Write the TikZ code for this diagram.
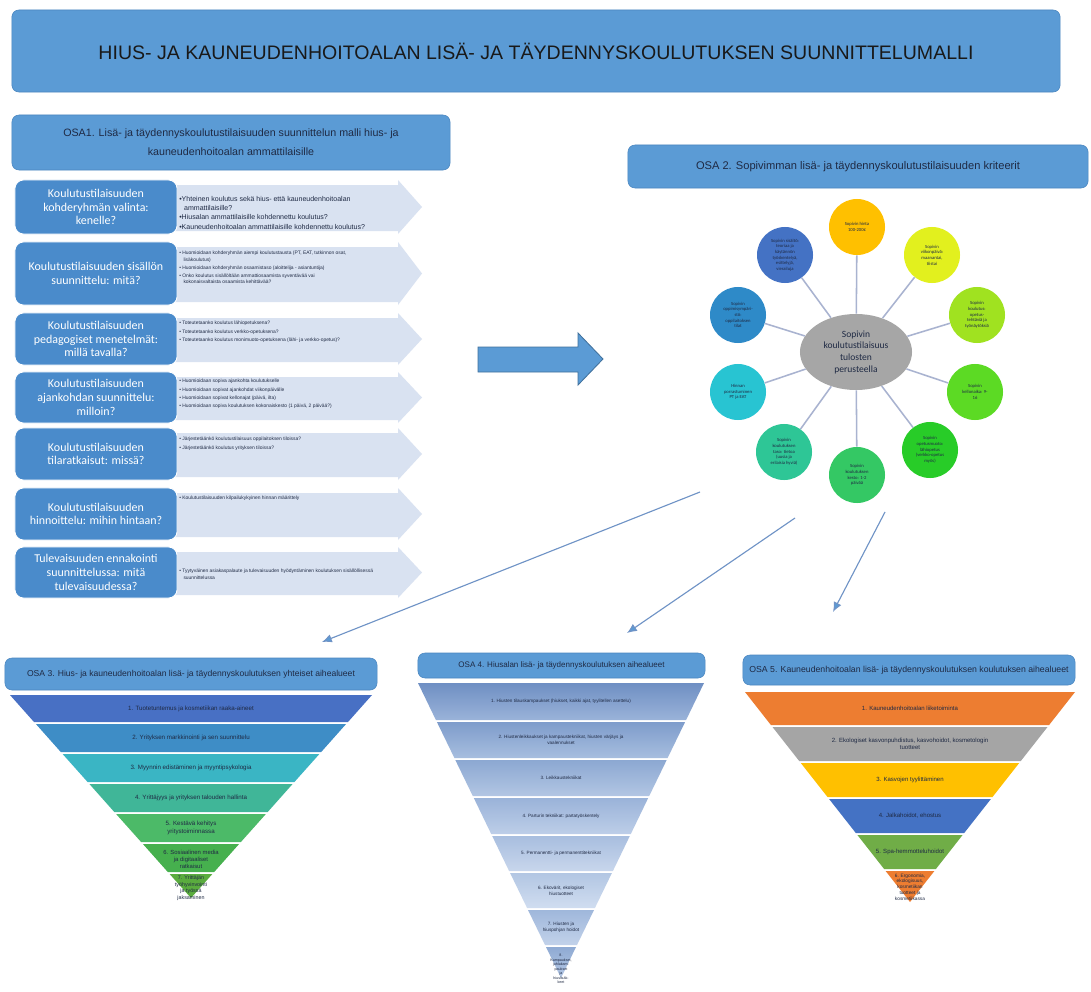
\documentclass[tikz,border=0pt]{standalone}
\usepackage{fontspec}
\setmainfont{Liberation Sans}
\newfontfamily\calfont{Carlito}
\usetikzlibrary{shapes.geometric,arrows.meta}
\def\fs#1#2{\fontsize{#1}{#2}\selectfont}
\definecolor{hdrblue}{HTML}{5B9BD5}
\definecolor{hdrline}{HTML}{4A86C0}
\definecolor{rowblue}{HTML}{4A8BCB}
\definecolor{arrowbg}{HTML}{D9E2F1}
\definecolor{arrline}{HTML}{41719C}
\definecolor{txtdark}{HTML}{1F2A44}
\definecolor{spokecol}{HTML}{A9B3D0}
\definecolor{linkcol}{HTML}{6F93C6}
\definecolor{linktip}{HTML}{5B9BD5}

\begin{document}
\begin{tikzpicture}[x=0.025cm,y=-0.025cm,
    hdr/.style={rectangle, rounded corners=5pt, fill=hdrblue, draw=hdrline, line width=0.4pt, inner sep=0pt, align=center, text=txtdark},
    rowbox/.style={rectangle, rounded corners=6pt, fill=rowblue, draw=white, line width=0.6pt, text=white, inner sep=0pt, align=center, minimum width=4.05cm, font=\calfont\fs{8.5}{9.8}},
    bul/.style={anchor=north west, align=left, inner sep=0pt, text=txtdark},
    sat/.style={circle, minimum size=1.4cm, inner sep=1pt, align=center, text=txtdark, font=\calfont\fs{3.3}{4}},
    spoke/.style={draw=spokecol, line width=1.1pt},
    link/.style={draw=linkcol, line width=0.8pt, -{Latex[length=7pt,width=6pt,fill=linktip]}},
    bt/.style={align=center, inner sep=0pt, text=txtdark}]
    \useasboundingbox[fill=white] (0,0) rectangle (1091,992);

    \node[hdr, minimum width=26.2cm, minimum height=2.05cm, font=\fs{13.9}{15}, text=black!90] (title) at (536,51) {HIUS- JA KAUNEUDENHOITOALAN LISÄ- JA TÄYDENNYSKOULUTUKSEN SUUNNITTELUMALLI};

    % OSA 1
    \node[hdr, minimum width=10.95cm, minimum height=1.375cm, font=\fs{7.6}{13.5}] (osa1) at (231,142.5) {OSA1. Lisä- ja täydennyskoulutustilaisuuden suunnittelun malli hius- ja\\kauneudenhoitoalan ammattilaisille};
    \fill[arrowbg] (170,185) -- (398,185) -- (398,180) -- (422,207) -- (398,234) -- (398,231) -- (170,231) -- cycle;
    \fill[arrowbg] (170,247) -- (398,247) -- (398,242) -- (422,273.5) -- (398,305) -- (398,302) -- (170,302) -- cycle;
    \fill[arrowbg] (170,318) -- (398,318) -- (398,313) -- (422,339) -- (398,365) -- (398,362) -- (170,362) -- cycle;
    \fill[arrowbg] (170,377) -- (398,377) -- (398,372) -- (422,397.5) -- (398,423) -- (398,420) -- (170,420) -- cycle;
    \fill[arrowbg] (170,433) -- (398,433) -- (398,428) -- (422,454) -- (398,480) -- (398,477) -- (170,477) -- cycle;
    \fill[arrowbg] (170,493) -- (398,493) -- (398,488) -- (422,514) -- (398,540) -- (398,537) -- (170,537) -- cycle;
    \fill[arrowbg] (170,552) -- (398,552) -- (398,547) -- (422,572.5) -- (398,598) -- (398,595) -- (170,595) -- cycle;

    \node[rowbox, minimum height=1.35cm] (r1) at (96,207) {Koulutustilaisuuden\\kohderyhmän valinta:\\kenelle?};
    \node[rowbox, minimum height=1.575cm] (r2) at (96,273.5) {Koulutustilaisuuden sisällön\\suunnittelu: mitä?};
    \node[rowbox, minimum height=1.3cm] (r3) at (96,339) {Koulutustilaisuuden\\pedagogiset menetelmät:\\millä tavalla?};
    \node[rowbox, minimum height=1.275cm] (r4) at (96,397.5) {Koulutustilaisuuden\\ajankohdan suunnittelu:\\milloin?};
    \node[rowbox, minimum height=1.3cm] (r5) at (96,454) {Koulutustilaisuuden\\tilaratkaisut: missä?};
    \node[rowbox, minimum height=1.3cm] (r6) at (96,514) {Koulutustilaisuuden\\hinnoittelu: mihin hintaan?};
    \node[rowbox, minimum height=1.275cm] (r7) at (96,572.5) {Tulevaisuuden ennakointi\\suunnittelussa: mitä\\tulevaisuudessa?};

    \node[bul, font=\fs{5}{6.6}] (b1) at (179,196) {•Yhteinen koulutus sekä hius- että kauneudenhoitoalan\\\hspace*{3.5pt}ammattilaisille?\\•Hiusalan ammattilaisille kohdennettu koulutus?\\•Kauneudenhoitoalan ammattilaisille kohdennettu koulutus?};
    \node[bul, font=\fs{3.5}{4.4}] (b2) at (179,251) {• Huomioidaan kohderyhmän aiempi koulutustausta (PT, EAT, tutkinnon osat,\\\hspace*{3pt}lisäkoulutus)\\[1.5pt]• Huomioidaan kohderyhmän osaamistaso (aloittelija - asiantuntija)\\[1.5pt]• Onko koulutus sisällöltään ammattiosaamista syventävää vai\\\hspace*{3pt}kokonaisvaltaista osaamista kehittävää?};
    \node[bul, font=\fs{3.5}{4.4}] (b3) at (179,321) {• Toteutetaanko koulutus lähiopetuksena?\\[1.5pt]• Toteutetaanko koulutus verkko-opetuksena?\\[1.5pt]• Toteutetaanko koulutus monimuoto-opetuksena (lähi- ja verkko-opetus)?};
    \node[bul, font=\fs{3.5}{4.4}] (b4) at (179,379) {• Huomioidaan sopiva ajankohta koulutukselle\\[1.5pt]• Huomioidaan sopivat ajankohdat viikonpäivälle\\[1.5pt]• Huomioidaan sopivat kellonajat (päivä, ilta)\\[1.5pt]• Huomioidaan sopiva koulutuksen kokonaiskesto (1 päivä, 2 päivää?)};
    \node[bul, font=\fs{3.5}{4.4}] (b5) at (179,437) {• Järjestetäänkö koulutustilaisuus oppilaitoksen tiloissa?\\[1.5pt]• Järjestetäänkö koulutus yrityksen tiloissa?};
    \node[bul, font=\fs{3.5}{4.4}] (b6) at (179,496) {• Koulutustilaisuuden kilpailukykyinen hinnan määrittely};
    \node[bul, font=\fs{3.5}{4.4}] (b7) at (179,569) {• Tyytyväinen asiakaspalaute ja tulevaisuuden hyödyntäminen koulutuksen sisällöllisessä\\\hspace*{3pt}suunnittelussa};

    % iso nuoli
    \draw[fill=hdrblue, draw=arrline, line width=0.6pt] (478,347) -- (578,347) -- (578,333) -- (603,359) -- (578,385) -- (578,372) -- (478,372) -- cycle;

    % OSA 2
    \node[hdr, minimum width=11.5cm, minimum height=1.075cm, font=\fs{7.9}{9}] (osa2) at (858,166.5) {OSA 2. Sopivimman lisä- ja täydennyskoulutustilaisuuden kriteerit};
    \node[ellipse, fill=black!35, minimum width=2.8cm, minimum height=1.9cm, inner sep=0pt, align=center, text=txtdark, font=\calfont\fs{6.8}{8.3}] (c) at (856,352) {Sopivin\\koulutustilaisuus\\tulosten\\perusteella};
    \node[sat, fill={rgb,255:red,255;green,192;blue,0}] (s1) at (857,227) {Sopivin hinta\\100-200€};
    \node[sat, fill={rgb,255:red,226;green,240;blue,30}] (s2) at (932,255) {Sopivin\\viikonpäivä:\\maanantai,\\tiistai};
    \node[sat, fill={rgb,255:red,160;green,226;blue,32}] (s3) at (977,315) {Sopivin\\koulutus:\\opetus-\\tehtäviä ja\\työnäytöksiä};
    \node[sat, fill={rgb,255:red,92;green,218;blue,36}] (s4) at (975,392) {Sopivin\\kellonaika: 9-\\16};
    \node[sat, fill={rgb,255:red,40;green,204;blue,40}] (s5) at (930,450) {Sopivin\\opetusmuoto:\\lähiopetus\\(verkko-opetus\\myös)};
    \node[sat, fill={rgb,255:red,52;green,200;blue,100}] (s6) at (857,475) {Sopivin\\koulutuksen\\kesto: 1-2\\päivää};
    \node[sat, fill={rgb,255:red,46;green,198;blue,150}] (s7) at (784,452) {Sopivin\\koulutuksen\\taso: tietoa\\(uusia ja\\erilaisia hyviä)};
    \node[sat, fill={rgb,255:red,40;green,196;blue,210}] (s8) at (738,392) {Hinnan\\porrastuminen\\PT ja EAT};
    \node[sat, fill={rgb,255:red,46;green,138;blue,200}] (s9) at (738,315) {Sopivin\\oppimisympäri-\\stö:\\oppilaitoksen\\tilat};
    \node[sat, fill={rgb,255:red,68;green,114;blue,196}] (s10) at (785,255) {Sopivin sisältö:\\teoriaa ja\\käytännön\\työskentelyä,\\esittelyjä,\\vierailuja};
    \draw[spoke] (c) -- (s1);
    \draw[spoke] (c) -- (s2);
    \draw[spoke] (c) -- (s3);
    \draw[spoke] (c) -- (s4);
    \draw[spoke] (c) -- (s5);
    \draw[spoke] (c) -- (s6);
    \draw[spoke] (c) -- (s7);
    \draw[spoke] (c) -- (s8);
    \draw[spoke] (c) -- (s9);
    \draw[spoke] (c) -- (s10);

    \coordinate (l3a) at (700,492);
    \coordinate (l3b) at (322,642);
    \coordinate (l4a) at (795,518);
    \coordinate (l4b) at (627,633);
    \coordinate (l5a) at (885,512);
    \coordinate (l5b) at (833,612);
    \draw[link] (l3a) -- (l3b);
    \draw[link] (l4a) -- (l4b);
    \draw[link] (l5a) -- (l5b);

    % OSA 3
    \node[hdr, minimum width=9.3cm, minimum height=0.8cm, font=\fs{6.1}{7}] (osa3) at (191,674) {OSA 3. Hius- ja kauneudenhoitoalan lisä- ja täydennyskoulutuksen yhteiset aihealueet};
    \fill[fill={rgb,255:red,72;green,112;blue,196}] (10,695) -- (372,695) -- (348,722) -- (34,722) -- cycle;
    \fill[fill={rgb,255:red,62;green,141;blue,198}] (35.9,724) -- (346.1,724) -- (321.2,752) -- (60.8,752) -- cycle;
    \fill[fill={rgb,255:red,58;green,181;blue,196}] (62.6,754) -- (319.4,754) -- (294.4,782) -- (87.6,782) -- cycle;
    \fill[fill={rgb,255:red,64;green,182;blue,152}] (89.4,784) -- (292.6,784) -- (267.7,812) -- (114.3,812) -- cycle;
    \fill[fill={rgb,255:red,76;green,186;blue,104}] (116.1,814) -- (265.9,814) -- (240.9,842) -- (141.1,842) -- cycle;
    \fill[fill={rgb,255:red,70;green,176;blue,78}] (142.9,844) -- (239.1,844) -- (214.2,872) -- (167.8,872) -- cycle;
    \fill[fill={rgb,255:red,90;green,172;blue,62}] (169.6,874) -- (212.4,874) -- (191,898) -- cycle;
    \node[bt, font=\fs{4.4}{5.4}] (p31) at (191,708.5) {1. Tuotetuntemus ja kosmetiikan raaka-aineet};
    \node[bt, font=\fs{4.4}{5.4}] (p32) at (191,738) {2. Yrityksen markkinointi ja sen suunnittelu};
    \node[bt, font=\fs{4.4}{5.4}] (p33) at (191,768) {3. Myynnin edistäminen ja myyntipsykologia};
    \node[bt, font=\fs{4.4}{5.4}] (p34) at (191,798) {4. Yrittäjyys ja yrityksen talouden hallinta};
    \node[bt, font=\fs{4.4}{5.4}] (p35) at (191,828) {5. Kestävä kehitys\\yritystoiminnassa};
    \node[bt, font=\fs{4.2}{5}] (p36) at (191,859) {6. Sosiaalinen media\\ja digitaaliset\\ratkaisut};
    \node[bt, font=\fs{3.8}{4.6}] (p37) at (191,888) {7. Yrittäjän\\työhyvinvointi\\ja työssä\\jaksaminen};

    % OSA 4
    \node[hdr, minimum width=7.175cm, minimum height=0.625cm, font=\fs{5.7}{6.5}] (osa4) at (561.5,665.5) {OSA 4. Hiusalan lisä- ja täydennyskoulutuksen aihealueet};
    \shade[top color={rgb,255:red,111;green,143;blue,195}, bottom color={rgb,255:red,154;green,179;blue,217}] (418,683) -- (704,683) -- (686.1,720) -- (435.9,720) -- cycle;
    \shade[top color={rgb,255:red,126;green,156;blue,203}, bottom color={rgb,255:red,167;green,190;blue,223}] (436.9,722) -- (685.1,722) -- (667.6,758) -- (454.4,758) -- cycle;
    \shade[top color={rgb,255:red,140;green,168;blue,210}, bottom color={rgb,255:red,178;green,198;blue,227}] (455.3,760) -- (666.7,760) -- (649.2,796) -- (472.8,796) -- cycle;
    \shade[top color={rgb,255:red,154;green,179;blue,217}, bottom color={rgb,255:red,189;green,206;blue,232}] (473.8,798) -- (648.2,798) -- (630.8,834) -- (491.2,834) -- cycle;
    \shade[top color={rgb,255:red,168;green,190;blue,223}, bottom color={rgb,255:red,200;green,214;blue,236}] (492.2,836) -- (629.8,836) -- (612.9,871) -- (509.1,871) -- cycle;
    \shade[top color={rgb,255:red,178;green,198;blue,227}, bottom color={rgb,255:red,208;green,221;blue,240}] (510.1,873) -- (611.9,873) -- (594.9,908) -- (527.1,908) -- cycle;
    \shade[top color={rgb,255:red,159;green,183;blue,219}, bottom color={rgb,255:red,194;green,210;blue,234}] (528,910) -- (594,910) -- (577,945) -- (545,945) -- cycle;
    \shade[top color={rgb,255:red,143;green,170;blue,211}, bottom color={rgb,255:red,181;green,200;blue,229}] (546,947) -- (576,947) -- (561,978) -- cycle;
    \node[bt, font=\fs{3.3}{4.2}] (p41) at (561,701.5) {1. Hiusten tilauskampaukset (hiukset, kaikki ajat, tyylitellen asettelu)};
    \node[bt, font=\fs{3.3}{4.2}] (p42) at (561,740) {2. Hiustenleikkaukset ja kampaustekniikat, hiusten värjäys ja\\vaalennukset};
    \node[bt, font=\fs{3.3}{4.2}] (p43) at (561,778) {3. Leikkaustekniikat};
    \node[bt, font=\fs{3.3}{4.2}] (p44) at (561,816) {4. Parturin tekniikat: partatyöskentely};
    \node[bt, font=\fs{3.3}{4.2}] (p45) at (561,853.5) {5. Permanentti- ja permanenttitekniikat};
    \node[bt, font=\fs{3.3}{4.2}] (p46) at (561,890.5) {6. Ekovärit, ekologiset\\hiustuotteet};
    \node[bt, font=\fs{3.3}{4.2}] (p47) at (561,927.5) {7. Hiusten ja\\hiuspohjan hoidot};
    \node[bt, font=\fs{2.6}{3.2}] (p48) at (561,969) {8.\\Kampaukset,\\juhlakam-\\paukset\\ja\\hiuslisäk-\\keet};

    % OSA 5
    \node[hdr, minimum width=8.3cm, minimum height=0.75cm, font=\fs{6.2}{7}] (osa5) at (909,670) {OSA 5. Kauneudenhoitoalan lisä- ja täydennyskoulutuksen koulutuksen aihealueet};
    \fill[fill={rgb,255:red,237;green,125;blue,49}] (745,692) -- (1075,692) -- (1049.1,725) -- (770.9,725) -- cycle;
    \fill[fill={rgb,255:red,165;green,165;blue,165}] (772.5,727) -- (1047.5,727) -- (1020.8,761) -- (799.2,761) -- cycle;
    \fill[fill={rgb,255:red,255;green,192;blue,0}] (800.8,763) -- (1019.2,763) -- (992.5,797) -- (827.5,797) -- cycle;
    \fill[fill={rgb,255:red,68;green,114;blue,196}] (829.1,799) -- (990.9,799) -- (964.2,833) -- (855.8,833) -- cycle;
    \fill[fill={rgb,255:red,112;green,173;blue,71}] (857.4,835) -- (962.6,835) -- (935.9,869) -- (884.1,869) -- cycle;
    \fill[fill={rgb,255:red,237;green,125;blue,49}] (885.6,871) -- (934.4,871) -- (910,902) -- cycle;
    \node[bt, font=\fs{4.3}{5.2}] (p51) at (910,708.5) {1. Kauneudenhoitoalan liiketoiminta};
    \node[bt, font=\fs{4.3}{5.2}] (p52) at (910,744) {2. Ekologiset kasvonpuhdistus, kasvohoidot, kosmetologin\\tuotteet};
    \node[bt, font=\fs{4.3}{5.2}] (p53) at (910,780) {3. Kasvojen tyylittäminen};
    \node[bt, font=\fs{4.3}{5.2}] (p54) at (910,816) {4. Jalkahoidot, ehostus};
    \node[bt, font=\fs{4.3}{5.2}] (p55) at (910,852) {5. Spa-hemmotteluhoidot};
    \node[bt, font=\fs{3.4}{4.1}] (p56) at (910,887) {6. Ergonomia,\\ekologisuus,\\kosmetiikan\\tuotteet ja\\kosmetiikassa};
\end{tikzpicture}
\end{document}
